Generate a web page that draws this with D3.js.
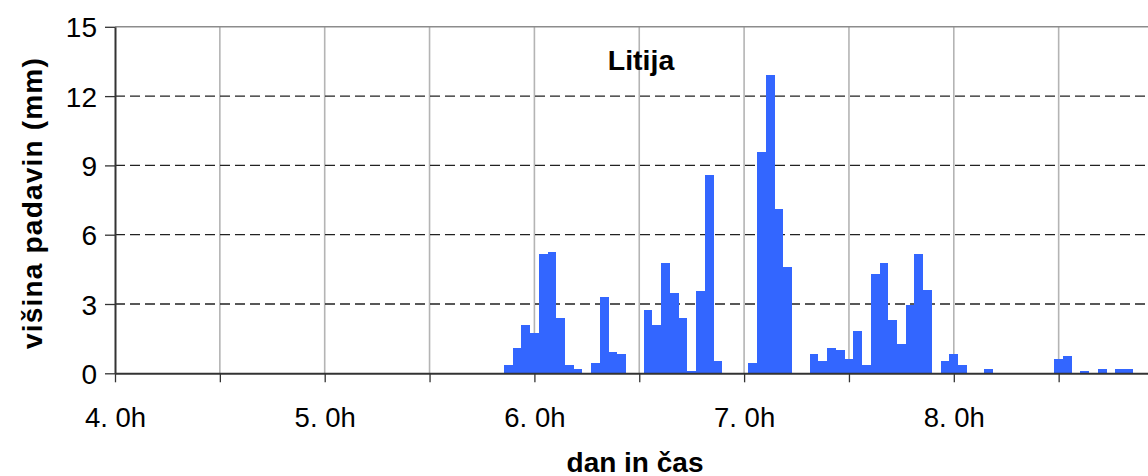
<!DOCTYPE html>
<head>
  <meta charset="utf-8">
  <style>
    body { margin: 0; background: #fff; }
    text { font-family: "Liberation Sans", Arial, sans-serif; }
  </style>
</head>
<body>
  <div id="chart"></div>
  <script src="https://d3js.org/d3.v7.min.js"></script>
  <script>

    // hourly precipitation (mm), index = hour of the day (bars centered on the hour)
    var rainDay4 = [0,0,0,0,0,0,0,0,0,0,0,0,0,0,0,0,0,0,0,0,0,0,0,0]
    var rainDay5 = [0,0,0,0,0,0,0,0,0,0,0,0,0,0,0,0,0,0,0,0,0,0.35,1.10,2.08]
    var rainDay6 = [1.73,5.17,5.24,2.38,0.35,0.17,0,0.43,3.29,0.91,0.82,0,0,2.73,2.08,4.77,3.47,2.38,0.09,3.55,8.6,0.52,0,0]
    var rainDay7 = [0,0.43,9.58,12.93,7.11,4.59,0,0,0.82,0.52,1.08,1.0,0.6,1.82,0.35,4.29,4.77,2.30,1.26,2.95,5.16,3.60,0,0.52]
    var rainDay8 = [0.82,0.35,0,0,0.17,0,0,0,0,0,0,0,0.6,0.74,0,0.09,0,0.17,0,0.17,0.17,0,0,0]
    var days = [4, 5, 6, 7, 8]
    var yTicks = [0, 3, 6, 9, 12, 15]
    var xTicks = [4, 4.5, 5, 5.5, 6, 6.5, 7, 7.5, 8, 8.5, 9]

    var width = 1148,
        height = 476,
        marginLeft = 115,
        plotTop = 26.8,
        plotBottom = 373.3,
        dayWidth = 209.7;

    var data = []
    ;[rainDay4, rainDay5, rainDay6, rainDay7, rainDay8].forEach(function(arr, i) {
      arr.forEach(function(v, h) {
        if (v > 0) data.push({ t: days[i] + h / 24, value: v })
      })
    })

    var x = d3.scaleLinear().domain([4, 9]).range([marginLeft, marginLeft + 5 * dayWidth])
    var y = d3.scaleLinear().domain([0, 15]).range([plotBottom, plotTop])

    var svg = d3.select("#chart").append("svg")
      .attr("width", width)
      .attr("height", height)

    // vertical grid (every half day)
    svg.append("g")
      .selectAll("line")
      .data(xTicks.slice(1))
      .enter().append("line")
        .attr("x1", function(d) { return x(d) })
        .attr("x2", function(d) { return x(d) })
        .attr("y1", plotTop)
        .attr("y2", plotBottom)
        .attr("stroke", "#b4b4b4")
        .attr("stroke-width", 1.6)

    // horizontal dashed grid
    svg.append("g")
      .selectAll("line")
      .data(yTicks.slice(1, -1))
      .enter().append("line")
        .attr("x1", marginLeft)
        .attr("x2", width)
        .attr("y1", function(d) { return y(d) })
        .attr("y2", function(d) { return y(d) })
        .attr("stroke", "#222")
        .attr("stroke-width", 1.3)
        .attr("stroke-dasharray", "10,5")

    // top border
    svg.append("line")
      .attr("x1", marginLeft).attr("x2", width)
      .attr("y1", y(15)).attr("y2", y(15))
      .attr("stroke", "#8c8c8c")
      .attr("stroke-width", 1.6)

    // bars
    var half = 0.5 / 24
    svg.append("g")
      .selectAll("rect")
      .data(data)
      .enter().append("rect")
        .attr("x", function(d) { return x(d.t - half) })
        .attr("width", function(d) { return x(d.t + half) - x(d.t - half) })
        .attr("y", function(d) { return y(d.value) })
        .attr("height", function(d) { return y(0) - y(d.value) })
        .attr("fill", "#3366ff")
        .attr("shape-rendering", "crispEdges")

    // axes
    var yAxis = svg.append("g")
      .attr("transform", "translate(" + marginLeft + ",0)")
      .call(d3.axisLeft(y).tickValues(yTicks).tickSize(10).tickSizeOuter(0).tickPadding(8))
    yAxis.selectAll("text").attr("font-size", "28px").attr("fill", "#000").attr("dy", "0.36em")
      .style("font-family", "'Liberation Sans', Arial, sans-serif")

    var xAxis = svg.append("g")
      .attr("transform", "translate(0," + plotBottom + ")")
      .call(d3.axisBottom(x).tickValues(xTicks).tickSize(9).tickSizeOuter(0)
        .tickFormat(function(d) { return Number.isInteger(d) && d < 9 ? d + ". 0h" : "" }))
    xAxis.selectAll("text")
      .attr("y", 53.6).attr("dy", 0)
      .attr("font-size", "27.5px").attr("fill", "#000")
      .style("font-family", "'Liberation Sans', Arial, sans-serif")

    svg.selectAll(".domain").attr("stroke", "#333").attr("stroke-width", 2)
    svg.selectAll(".tick line").attr("stroke", "#333").attr("stroke-width", 1.3)

    // titles
    svg.append("text")
      .attr("x", 641).attr("y", 70)
      .attr("text-anchor", "middle")
      .attr("font-weight", "bold")
      .attr("font-size", "28.5px")
      .text("Litija")

    svg.append("text")
      .attr("x", 635).attr("y", 471.5)
      .attr("text-anchor", "middle")
      .attr("font-weight", "bold")
      .attr("font-size", "28px")
      .text("dan in čas")

    svg.append("text")
      .attr("transform", "translate(42,203) rotate(-90)")
      .attr("text-anchor", "middle")
      .attr("font-weight", "bold")
      .attr("font-size", "28px")
      .attr("letter-spacing", "1.2px")
      .text("višina padavin (mm)")

  </script>
</body>
